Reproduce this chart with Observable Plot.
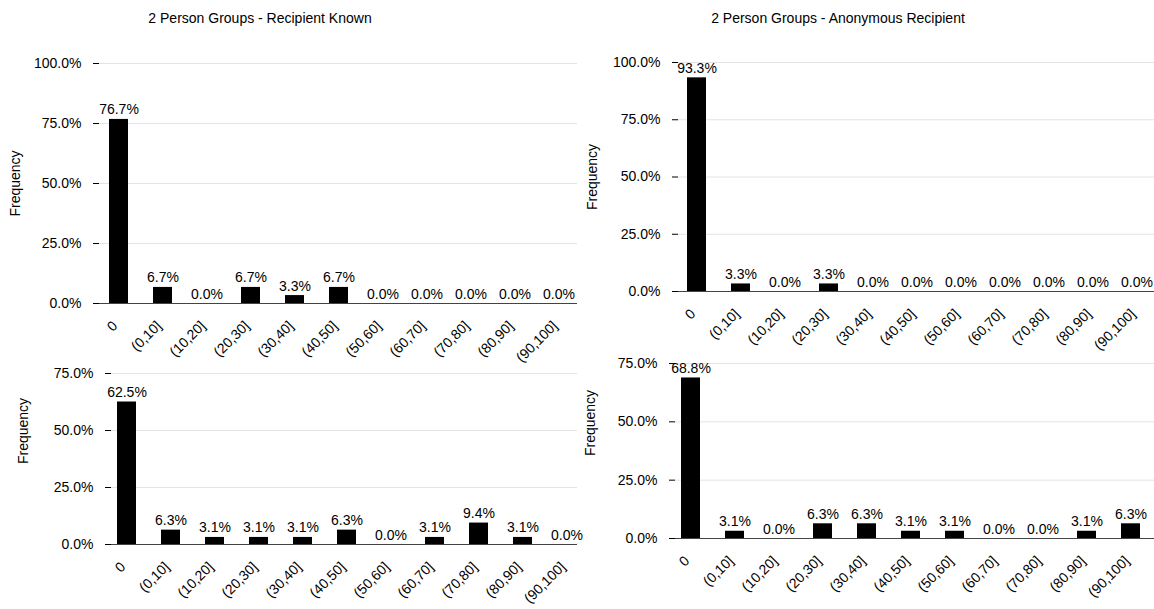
<!DOCTYPE html>
<html>
<head>
<meta charset="utf-8">
<script src="https://cdn.jsdelivr.net/npm/d3@7"></script>
<script src="https://cdn.jsdelivr.net/npm/@observablehq/plot@0.6"></script>
<style>
  html, body { margin: 0; padding: 0; background: white; }
  #wrap { position: relative; width: 1154px; height: 609px; overflow: hidden; font-family: "Liberation Sans", Arial, sans-serif; }
  .panel { position: absolute; width: 577px; }
  .title { position: absolute; width: 400px; text-align: center; font-size: 14px; line-height: 16px; color: #000; }
</style>
</head>
<body>
<div id="wrap"></div>
<script>
const categories = ["0","(0,10]","(10,20]","(20,30]","(30,40]","(40,50]","(50,60]","(60,70]","(70,80]","(80,90]","(90,100]"];
const twoKnown = [76.7, 6.7, 0.0, 6.7, 3.3, 6.7, 0.0, 0.0, 0.0, 0.0, 0.0];
const twoAnonymous = [93.3, 3.3, 0.0, 3.3, 0.0, 0.0, 0.0, 0.0, 0.0, 0.0, 0.0];
const fourKnown = [62.5, 6.3, 3.1, 3.1, 3.1, 6.3, 0.0, 3.1, 9.4, 3.1, 0.0];
const fourAnonymous = [68.8, 3.1, 0.0, 6.3, 6.3, 3.1, 3.1, 0.0, 0.0, 3.1, 6.3];
const topTicks = [0, 25, 50, 75, 100];
const bottomTicks = [0, 25, 50, 75];
const titleKnown = "2 Person Groups - Recipient Known";
const titleAnonymous = "2 Person Groups - Anonymous Recipient";
const yLabel = "Frequency";

const fmt = d => d.toFixed(1) + "%";

function panel(values, ticks, yMax, cfg) {
  const data = categories.map((c, i) => ({cat: c, value: values[i]}));
  return Plot.plot({
    width: 577,
    height: cfg.height,
    marginTop: cfg.marginTop,
    marginBottom: cfg.marginBottom,
    marginLeft: cfg.marginLeft,
    marginRight: 0,
    style: {background: "transparent", fontFamily: "'Liberation Sans', Arial, sans-serif", fontSize: "14px", overflow: "visible", color: "#000"},
    x: {type: "band", domain: categories, range: cfg.xRange, paddingInner: 0.57, paddingOuter: 0.285, align: 0.5, axis: null},
    y: {domain: [0, yMax], axis: null},
    marks: [
      Plot.ruleY(ticks.filter(t => t > 0), {stroke: "#e4e4e4"}),
      Plot.ruleY([0], {stroke: "#444"}),
      Plot.barY(data, {x: "cat", y: "value", fill: "black"}),
      Plot.text(data, {x: "cat", y: "value", text: d => fmt(d.value), lineAnchor: "bottom", dy: -5, fontSize: 14, fill: "black"}),
      Plot.axisY({ticks, tickFormat: fmt, tickSize: 6, tickPadding: 12, fontSize: 14, label: null}),
      Plot.text(data, {x: "cat", y: () => 0, text: "cat", rotate: -45, textAnchor: "end", lineAnchor: "middle", dy: 20, dx: -4, fontSize: 14, fill: "black"}),
      Plot.text([yLabel], {frameAnchor: "left", textAnchor: "middle", dx: -cfg.labelOffset, dy: cfg.labelDy || 0, rotate: -90, fontSize: 14, fill: "black"})
    ]
  });
}

const wrap = document.getElementById("wrap");
function place(node, left, top) {
  const d = document.createElement("div");
  d.className = "panel";
  d.style.left = left + "px";
  d.style.top = top + "px";
  d.appendChild(node);
  wrap.appendChild(d);
}
function title(text, cx, cy) {
  const t = document.createElement("div");
  t.className = "title";
  t.textContent = text;
  t.style.left = (cx - 200) + "px";
  t.style.top = (cy - 8) + "px";
  wrap.appendChild(t);
}

place(panel(fourAnonymous, bottomTicks, 75, {height: 269, marginTop: 23, marginBottom: 71, marginLeft: 98, xRange: [91, 575], labelOffset: 85, labelDy: -28}), 577, 340);
place(panel(fourKnown, bottomTicks, 75, {height: 269, marginTop: 33, marginBottom: 65, marginLeft: 111, xRange: [104, 588], labelOffset: 88, labelDy: -28}), 0, 340);
place(panel(twoKnown, topTicks, 100, {height: 340, marginTop: 63, marginBottom: 37, marginLeft: 99, xRange: [96, 580], labelOffset: 84}), 0, 0);
place(panel(twoAnonymous, topTicks, 100, {height: 340, marginTop: 62, marginBottom: 49, marginLeft: 101, xRange: [97, 581], labelOffset: 86}), 577, 0);

title(titleKnown, 260, 18);
title(titleAnonymous, 838, 18);
</script>
</body>
</html>
